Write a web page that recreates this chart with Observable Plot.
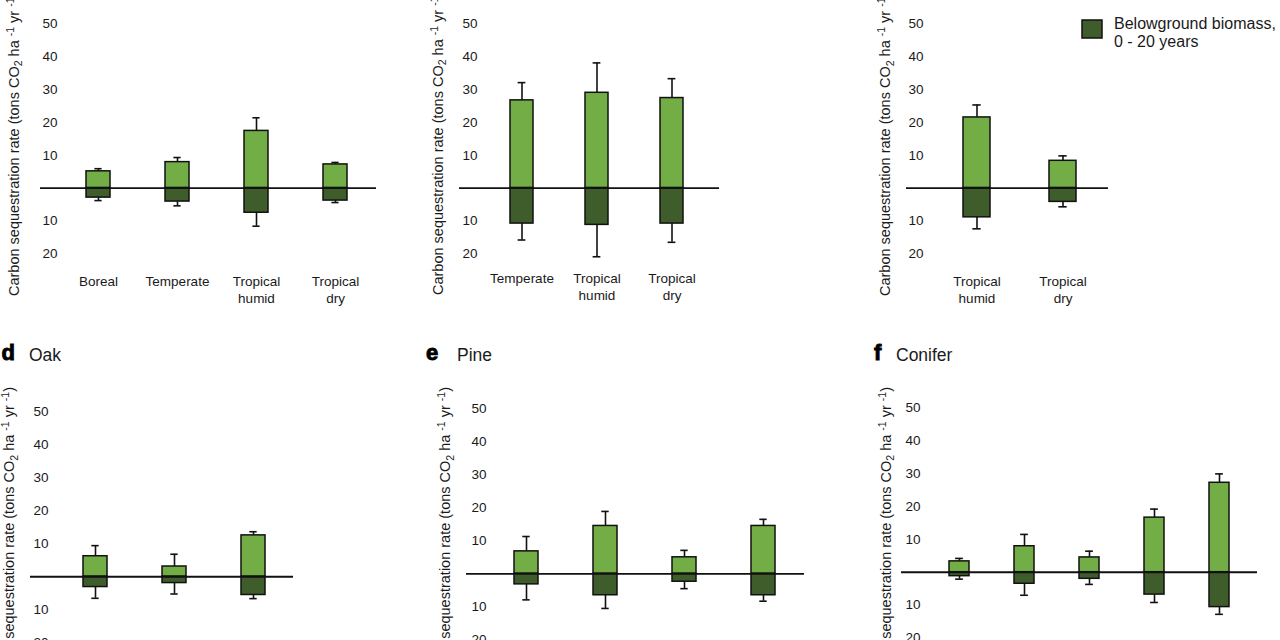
<!DOCTYPE html>
<html>
<head>
<meta charset="utf-8">
<script src="https://cdn.jsdelivr.net/npm/d3@7"></script>
<script src="https://cdn.jsdelivr.net/npm/@observablehq/plot@0.6"></script>
<style>
  body { margin: 0; background: #fff; }
  #fig { position: relative; width: 1280px; height: 640px; overflow: hidden; background: #fff;
         font-family: "Liberation Sans", Arial, Helvetica, sans-serif; }
  #fig svg { position: absolute; overflow: visible; }
</style>
</head>
<body>
<div id="fig"></div>
<script>
// ---- data: carbon sequestration rate, tons CO2 per ha per year (mean and error) ----
const yTicks = [-20, -10, 10, 20, 30, 40, 50];

// a: by biome
const catsA = ["Boreal", "Temperate", "Tropical\nhumid", "Tropical\ndry"];
const aboveA = [5.1, 7.9, 17.4, 7.2];
const aboveErrA = [0.8, 1.4, 4.0, 0.6];
const belowA = [2.9, 4.1, 7.5, 3.8];
const belowErrA = [0.9, 1.3, 4.1, 0.6];

// b
const catsB = ["Temperate", "Tropical\nhumid", "Tropical\ndry"];
const aboveB = [26.7, 29.0, 27.4];
const aboveErrB = [5.4, 9.1, 5.9];
const belowB = [10.8, 11.2, 10.8];
const belowErrB = [5.0, 9.7, 5.7];

// c
const catsC = ["Tropical\nhumid", "Tropical\ndry"];
const aboveC = [21.5, 8.3];
const aboveErrC = [3.8, 1.5];
const belowC = [8.9, 4.2];
const belowErrC = [3.5, 1.5];

// d: Oak
const catsD = ["group 1", "group 2", "group 3"];
const aboveD = [6.2, 3.1, 12.5];
const aboveErrD = [3.2, 3.7, 1.1];
const belowD = [3.1, 1.9, 5.5];
const belowErrD = [3.4, 3.3, 1.1];

// e: Pine
const catsE = ["group 1", "group 2", "group 3", "group 4"];
const aboveE = [6.8, 14.5, 5.0, 14.5];
const aboveErrE = [4.5, 4.4, 2.1, 2.0];
const belowE = [3.2, 6.5, 2.4, 6.5];
const belowErrE = [4.7, 4.0, 2.1, 1.8];

// f: Conifer
const catsF = ["group 1", "group 2", "group 3", "group 4", "group 5"];
const aboveF = [3.3, 7.9, 4.5, 16.6, 27.2];
const aboveErrF = [0.9, 3.6, 1.9, 2.6, 2.7];
const belowF = [1.2, 3.5, 2.0, 6.8, 10.6];
const belowErrF = [0.9, 3.5, 1.7, 2.4, 2.2];

const legendLines = ["Belowground biomass,", "0 - 20 years"];

// ---- styling ----
const FONT = '"Liberation Sans", Arial, Helvetica, sans-serif';
const ABOVE = "#72ae45";
const BELOW = "#3f5c2b";
const INK = "#111";
const TEXT = "#1a1a1a";
const PAD = 0.69;   // band padding: bar width / step
const CAP = 8;      // error-bar cap width (px)

const fig = document.getElementById("fig");

function yLabel(svg, x, y, anchor) {
  const t = svg.append("text")
    .attr("transform", `translate(${x},${y}) rotate(-90)`)
    .attr("text-anchor", anchor)
    .attr("font-family", FONT)
    .attr("font-size", 14.5)
    .attr("fill", TEXT);
  t.append("tspan").text("Carbon sequestration rate (tons CO");
  t.append("tspan").attr("dy", 3.5).attr("font-size", 10.5).text("2");
  t.append("tspan").attr("dy", -3.5).text(" ha ");
  t.append("tspan").attr("dy", -5).attr("font-size", 10.5).text("-1");
  t.append("tspan").attr("dy", 5).text(" yr ");
  t.append("tspan").attr("dy", -5).attr("font-size", 10.5).text("-1");
  t.append("tspan").attr("dy", 5).text(")");
}

function panel(cfg) {
  const {cats, above, aboveErr, below, belowErr} = cfg;
  const rows = cats.map((c, i) => ({
    cat: c,
    up: above[i], upEnd: above[i] + aboveErr[i],
    down: -below[i], downEnd: -(below[i] + belowErr[i])
  }));
  const L = cfg.left, T = cfg.top, W = cfg.width, H = cfg.height;
  const step = (cfg.band[1] - cfg.band[0]) / cats.length;
  const capInset = (step * (1 - PAD) - CAP) / 2;
  const whisker = {stroke: INK, strokeWidth: 1.6};

  const marks = [
    Plot.ruleX(rows, {x: "cat", y1: "up", y2: "upEnd", ...whisker}),
    Plot.ruleX(rows, {x: "cat", y1: "down", y2: "downEnd", ...whisker}),
    Plot.tickY(rows, {x: "cat", y: "upEnd", insetLeft: capInset, insetRight: capInset, ...whisker}),
    Plot.tickY(rows, {x: "cat", y: "downEnd", insetLeft: capInset, insetRight: capInset, ...whisker}),
    Plot.barY(rows, {x: "cat", y1: 0, y2: "up", fill: ABOVE, stroke: INK, strokeWidth: 1.5}),
    Plot.barY(rows, {x: "cat", y1: 0, y2: "down", fill: BELOW, stroke: INK, strokeWidth: 1.5}),
    Plot.ruleY([0], {stroke: INK, strokeWidth: 1.8}),
    Plot.axisY({
      ticks: yTicks, tickFormat: d => Math.abs(d), tickSize: 0,
      tickPadding: -(cfg.tickRight - cfg.frame[0]), fontSize: 13.5, label: null
    })
  ];
  if (cfg.xPad != null) {
    marks.push(Plot.axisX({tickSize: 0, tickPadding: cfg.xPad, fontSize: 13.5, lineHeight: 1.24, label: null}));
  }

  const node = Plot.plot({
    width: W,
    height: H,
    marginLeft: cfg.frame[0] - L,
    marginRight: L + W - cfg.frame[1],
    marginTop: cfg.y50 - T,
    marginBottom: T + H - cfg.yNeg20,
    style: {fontFamily: FONT, fontSize: "13.5px", color: TEXT, background: "transparent", overflow: "visible"},
    x: {
      type: "band", domain: cats,
      paddingInner: PAD, paddingOuter: PAD / 2,
      insetLeft: cfg.band[0] - cfg.frame[0],
      insetRight: cfg.frame[1] - cfg.band[1],
      axis: cfg.xPad != null ? undefined : null
    },
    y: {domain: [-20, 50]},
    marks
  });
  node.style.left = L + "px";
  node.style.top = T + "px";
  fig.appendChild(node);

  const svg = d3.select(node);
  yLabel(svg, cfg.yLab[0] - L, cfg.yLab[1] - T, cfg.yLab[2]);

  if (cfg.title) {
    svg.append("text")
      .attr("x", cfg.title.x - L).attr("y", cfg.title.y - T)
      .attr("text-anchor", "start")
      .attr("font-family", FONT).attr("font-size", 22).attr("font-weight", 700)
      .attr("fill", "#000").attr("stroke", "#000").attr("stroke-width", 0.9)
      .text(cfg.title.letter);
    svg.append("text")
      .attr("x", cfg.title.nx - L).attr("y", cfg.title.y + 1.5 - T)
      .attr("text-anchor", "start")
      .attr("font-family", FONT).attr("font-size", 17.5)
      .attr("fill", TEXT)
      .text(cfg.title.name);
  }
  return svg;
}

// top row
panel({
  cats: catsA, above: aboveA, aboveErr: aboveErrA, below: belowA, belowErr: belowErrA,
  left: 0, top: 0, width: 420, height: 320,
  frame: [40, 376], band: [56.5, 376], y50: 23.3, yNeg20: 253.3,
  tickRight: 57, xPad: 20.5, yLab: [18.5, 296, "start"]
});
panel({
  cats: catsB, above: aboveB, aboveErr: aboveErrB, below: belowB, belowErr: belowErrB,
  left: 420, top: 0, width: 420, height: 320,
  frame: [459, 719], band: [484.5, 709.5], y50: 23.3, yNeg20: 253.3,
  tickRight: 477, xPad: 17.5, yLab: [442.5, 295, "start"]
});
const svgC = panel({
  cats: catsC, above: aboveC, aboveErr: aboveErrC, below: belowC, belowErr: belowErrC,
  left: 860, top: 0, width: 420, height: 320,
  frame: [906, 1108], band: [933, 1105], y50: 23.3, yNeg20: 253.3,
  tickRight: 923, xPad: 20.5, yLab: [890, 296, "start"]
});

// legend
svgC.append("rect")
  .attr("x", 1082 - 860).attr("y", 20).attr("width", 20).attr("height", 18)
  .attr("fill", BELOW).attr("stroke", INK).attr("stroke-width", 1.5);
legendLines.forEach((line, i) => {
  svgC.append("text")
    .attr("x", 1114 - 860).attr("y", 28.5 + i * 18.5)
    .attr("text-anchor", "start")
    .attr("font-family", FONT).attr("font-size", 16).attr("fill", TEXT)
    .text(line);
});

// bottom row
panel({
  cats: catsD, above: aboveD, aboveErr: aboveErrD, below: belowD, belowErr: belowErrD,
  left: 0, top: 320, width: 420, height: 340,
  frame: [30, 293], band: [54.5, 293], y50: 410.7, yNeg20: 642.5,
  tickRight: 48, yLab: [14, 387, "end"],
  title: {letter: "d", name: "Oak", x: 1.5, nx: 29, y: 359.5}
});
panel({
  cats: catsE, above: aboveE, aboveErr: aboveErrE, below: belowE, belowErr: belowErrE,
  left: 420, top: 320, width: 420, height: 340,
  frame: [466, 804], band: [486.3, 803.7], y50: 408.3, yNeg20: 639.3,
  tickRight: 486, yLab: [450, 387, "end"],
  title: {letter: "e", name: "Pine", x: 426, nx: 457, y: 359.5}
});
panel({
  cats: catsF, above: aboveF, aboveErr: aboveErrF, below: belowF, belowErr: belowErrF,
  left: 860, top: 320, width: 420, height: 340,
  frame: [901, 1257], band: [926.4, 1252.6], y50: 407.3, yNeg20: 637.5,
  tickRight: 920, yLab: [890.5, 387, "end"],
  title: {letter: "f", name: "Conifer", x: 874, nx: 896, y: 359.5}
});
</script>
</body>
</html>
